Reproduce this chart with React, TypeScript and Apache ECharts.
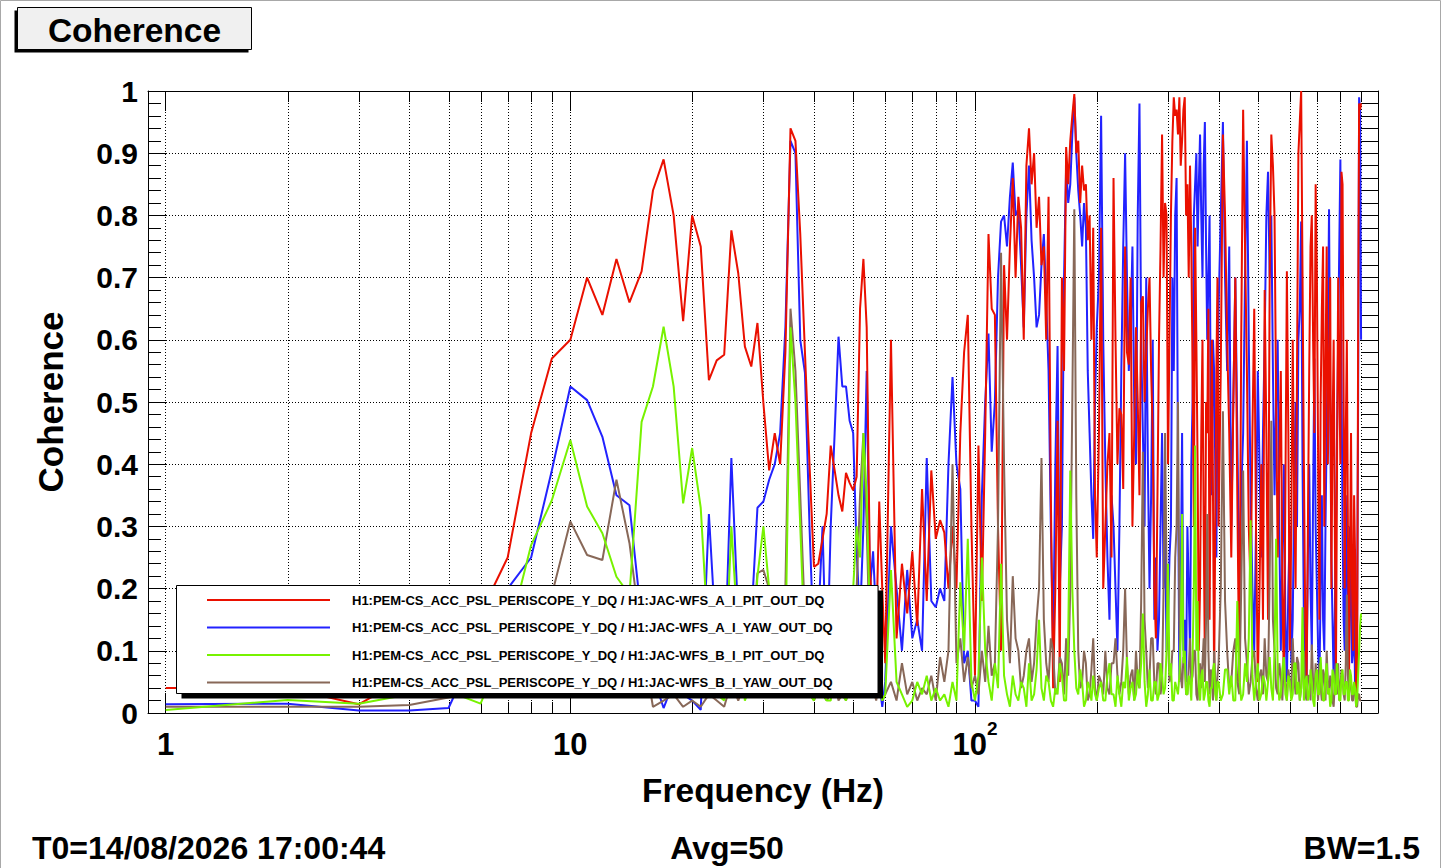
import React, { useEffect, useRef } from 'react';
import * as echarts from 'echarts';

// ---------------- data ----------------
const freqHz = [
  // 1 .. 59 Hz
  1, 2, 3, 4, 5, 6, 7, 8, 9, 10, 11, 12, 13, 14, 15, 16, 17, 18, 19, 20,
  21, 22, 23, 24, 25, 26, 27, 28, 29, 30, 31, 32, 33, 34, 35, 36, 37, 38, 39, 40,
  41, 42, 43, 44, 45, 46, 47, 48, 49, 50, 51, 52, 53, 54, 55, 56, 57, 58, 59,
  // 60 .. 98 Hz
  60, 62, 64, 66, 68, 70, 72, 74, 76, 78, 80, 82, 84, 86, 88, 90, 92, 94, 96, 98,
  // 100 .. 198 Hz
  100, 102, 104, 106, 108, 110, 112, 114, 116, 118, 120, 122, 124, 126, 128, 130, 132, 134, 136, 138,
  140, 142, 144, 146, 148, 150, 152, 154, 156, 158, 160, 162, 164, 166, 168, 170, 172, 174, 176, 178,
  180, 182, 184, 186, 188, 190, 192, 194, 196, 198,
  // 200 .. 397.5 Hz
  200, 202.5, 205, 207.5, 210, 212.5, 215, 217.5, 220, 222.5, 225, 227.5, 230, 232.5, 235, 237.5, 240, 242.5, 245, 247.5,
  250, 252.5, 255, 257.5, 260, 262.5, 265, 267.5, 270, 272.5, 275, 277.5, 280, 282.5, 285, 287.5, 290, 292.5, 295, 297.5,
  300, 302.5, 305, 307.5, 310, 312.5, 315, 317.5, 320, 322.5, 325, 327.5, 330, 332.5, 335, 337.5, 340, 342.5, 345, 347.5,
  350, 352.5, 355, 357.5, 360, 362.5, 365, 367.5, 370, 372.5, 375, 377.5, 380, 382.5, 385, 387.5, 390, 392.5, 395, 397.5,
  // 400 .. 900 Hz
  400, 405, 410, 415, 420, 425, 430, 435, 440, 445, 450, 455, 460, 465, 470, 475, 480, 485, 490, 495,
  500, 505, 510, 515, 520, 525, 530, 535, 540, 545, 550, 555, 560, 565, 570, 575, 580, 585, 590, 595,
  600, 605, 610, 615, 620, 625, 630, 635, 640, 645, 650, 655, 660, 665, 670, 675, 680, 685, 690, 695,
  700, 705, 710, 715, 720, 725, 730, 735, 740, 745, 750, 755, 760, 765, 770, 775, 780, 785, 790, 795,
  800, 805, 810, 815, 820, 825, 830, 835, 840, 845, 850, 855, 860, 865, 870, 875, 880, 885, 890, 895,
  900,
];

// H1:JAC-WFS_A_I_PIT_OUT_DQ (red)
const cohAPit = [
  0.04, 0.04, 0.014, 0.06, 0.10, 0.16, 0.25, 0.45, 0.57, 0.60,
  0.70, 0.64, 0.73, 0.66, 0.71, 0.84, 0.89, 0.80, 0.63, 0.80,
  0.75, 0.535, 0.567, 0.576, 0.776, 0.707, 0.589, 0.557, 0.627, 0.498,
  0.39, 0.45, 0.40, 0.58, 0.94, 0.92, 0.77, 0.58, 0.40, 0.235,
  0.24, 0.28, 0.32, 0.43, 0.39, 0.35, 0.324, 0.386, 0.37, 0.358,
  0.38, 0.65, 0.73, 0.62, 0.23, 0.15, 0.12, 0.34, 0.20,
  0.08, 0.60, 0.12, 0.24, 0.16, 0.26, 0.14, 0.36, 0.18, 0.39,
  0.28, 0.31, 0.29, 0.20, 0.30, 0.20, 0.45, 0.58, 0.64, 0.30,
  0.06, 0.43, 0.18, 0.45, 0.77, 0.65, 0.64, 0.30, 0.10, 0.72,
  0.60, 0.75, 0.86, 0.70, 0.83, 0.78, 0.60, 0.88, 0.94, 0.85,
  0.90, 0.78, 0.83, 0.72, 0.75, 0.60, 0.83, 0.35, 0.04, 0.20,
  0.47, 0.05, 0.70, 0.55, 0.91, 0.85, 0.92, 0.96, 0.995, 0.90,
  0.92, 0.82, 0.88, 0.84, 0.85, 0.76, 0.80, 0.60, 0.78, 0.35,
  0.25, 0.45, 0.78, 0.20, 0.30, 0.40, 0.45, 0.25, 0.86, 0.60,
  0.40, 0.49, 0.48, 0.36, 0.75, 0.58, 0.56, 0.70, 0.30, 0.45,
  0.62, 0.50, 0.35, 0.66, 0.67, 0.50, 0.58, 0.65, 0.70, 0.55,
  0.45, 0.20, 0.12, 0.35, 0.60, 0.75, 0.93, 0.70, 0.82, 0.80,
  0.40, 0.60, 0.80, 0.92, 0.99, 0.96, 0.97, 0.93, 0.99, 0.88,
  0.92, 0.97, 0.99, 0.80, 0.85, 0.70, 0.88, 0.75, 0.55, 0.30,
  0.78, 0.60, 0.40, 0.10, 0.20, 0.45, 0.60, 0.30, 0.08, 0.50,
  0.45, 0.65, 0.15, 0.40, 0.60, 0.35, 0.05, 0.30, 0.55, 0.70,
  0.30, 0.55, 0.93, 0.80, 0.60, 0.45, 0.25, 0.50, 0.70, 0.35,
  0.05, 0.60, 0.97, 0.75, 0.55, 0.30, 0.20, 0.45, 0.65, 0.30,
  0.05, 0.20, 0.40, 0.15, 0.68, 0.45, 0.15, 0.70, 0.93, 0.88,
  0.80, 0.50, 0.25, 0.40, 0.55, 0.20, 0.05, 0.35, 0.71, 0.45,
  0.10, 0.30, 0.60, 0.35, 0.20, 0.55, 0.90, 0.95, 1.0, 0.70,
  0.40, 0.15, 0.05, 0.30, 0.55, 0.75, 0.80, 0.60, 0.45, 0.85,
  0.70, 0.40, 0.15, 0.50, 0.65, 0.75, 0.30, 0.55, 0.75, 0.40,
  0.55, 0.70, 0.20, 0.45, 0.60, 0.30, 0.05, 0.40, 0.70, 0.55,
  0.40, 0.87, 0.85, 0.50, 0.20, 0.45, 0.60, 0.30, 0.05, 0.25,
  0.45, 0.20, 0.10, 0.35, 0.25, 0.02, 0.05, 0.60, 0.98, 0.97,
  0.98,
];

// H1:JAC-WFS_A_I_YAW_OUT_DQ (blue)
const cohAYaw = [
  0.014, 0.015, 0.004, 0.004, 0.008, 0.12, 0.20, 0.25, 0.39, 0.525,
  0.503, 0.444, 0.35, 0.334, 0.15, 0.06, 0.008, 0.05, 0.03, 0.02,
  0.005, 0.32, 0.10, 0.05, 0.41, 0.15, 0.05, 0.15, 0.33, 0.34,
  0.375, 0.40, 0.45, 0.62, 0.92, 0.90, 0.60, 0.547, 0.30, 0.10,
  0.15, 0.30, 0.05, 0.30, 0.45, 0.605, 0.525, 0.525, 0.47, 0.45,
  0.26, 0.15, 0.30, 0.55, 0.20, 0.26, 0.15, 0.05, 0.01,
  0.05, 0.30, 0.20, 0.10, 0.23, 0.12, 0.15, 0.10, 0.41, 0.18,
  0.17, 0.20, 0.18, 0.40, 0.54, 0.40, 0.36, 0.08, 0.10, 0.02,
  0.02, 0.01, 0.35, 0.50, 0.61, 0.42, 0.50, 0.70, 0.79, 0.80,
  0.75, 0.83, 0.885, 0.80, 0.81, 0.72, 0.62, 0.80, 0.88, 0.76,
  0.70, 0.62, 0.64, 0.72, 0.77, 0.66, 0.55, 0.30, 0.10, 0.40,
  0.59, 0.20, 0.30, 0.70, 0.88, 0.82, 0.85, 0.93, 0.99, 0.90,
  0.84, 0.80, 0.75, 0.82, 0.78, 0.55, 0.45, 0.35, 0.28, 0.50,
  0.62, 0.70, 0.96, 0.60, 0.40, 0.25, 0.15, 0.35, 0.30, 0.20,
  0.10, 0.30, 0.55, 0.75, 0.90, 0.70, 0.55, 0.62, 0.75, 0.50,
  0.40, 0.80, 0.98, 0.60, 0.45, 0.30, 0.70, 0.40, 0.20, 0.35,
  0.60, 0.15, 0.25, 0.10, 0.15, 0.30, 0.45, 0.20, 0.30, 0.10,
  0.15, 0.25, 0.30, 0.70, 0.55, 0.80, 0.86, 0.40, 0.05, 0.20,
  0.45, 0.10, 0.15, 0.05, 0.30, 0.20, 0.10, 0.40, 0.50, 0.80,
  0.85, 0.90, 0.75, 0.85, 0.93, 0.80, 0.70, 0.88, 0.95, 0.75,
  0.60, 0.70, 0.80, 0.50, 0.35, 0.60, 0.55, 0.40, 0.25, 0.50,
  0.65, 0.80, 0.95, 0.70, 0.55, 0.75, 0.30, 0.50, 0.70, 0.45,
  0.20, 0.35, 0.45, 0.70, 0.92, 0.60, 0.35, 0.20, 0.10, 0.30,
  0.55, 0.40, 0.25, 0.45, 0.60, 0.80, 0.87, 0.70, 0.80, 0.55,
  0.35, 0.50, 0.60, 0.30, 0.10, 0.25, 0.40, 0.15, 0.05, 0.20,
  0.30, 0.08, 0.15, 0.35, 0.50, 0.30, 0.60, 0.65, 0.79, 0.40,
  0.15, 0.05, 0.05, 0.25, 0.40, 0.20, 0.10, 0.35, 0.57, 0.30,
  0.20, 0.10, 0.05, 0.20, 0.35, 0.15, 0.10, 0.30, 0.45, 0.60,
  0.81, 0.50, 0.25, 0.15, 0.05, 0.15, 0.30, 0.45, 0.60, 0.75,
  0.89, 0.55, 0.30, 0.15, 0.10, 0.35, 0.25, 0.10, 0.05, 0.30,
  0.20, 0.08, 0.10, 0.20, 0.03, 0.10, 0.15, 0.50, 0.99, 0.97,
  0.60,
];

// H1:JAC-WFS_B_I_PIT_OUT_DQ (green)
const cohBPit = [
  0.005, 0.021, 0.015, 0.03, 0.035, 0.015, 0.12, 0.27, 0.342, 0.439,
  0.332, 0.289, 0.219, 0.19, 0.468, 0.525, 0.621, 0.525, 0.337, 0.426,
  0.33, 0.10, 0.03, 0.02, 0.30, 0.12, 0.02, 0.05, 0.22, 0.30,
  0.20, 0.05, 0.03, 0.10, 0.62, 0.50, 0.30, 0.10, 0.03, 0.02,
  0.05, 0.03, 0.02, 0.02, 0.08, 0.05, 0.03, 0.02, 0.05, 0.20,
  0.30, 0.25, 0.45, 0.35, 0.15, 0.05, 0.03, 0.06, 0.02,
  0.03, 0.23, 0.05, 0.03, 0.01, 0.02, 0.05, 0.03, 0.06, 0.02,
  0.04, 0.02, 0.03, 0.01, 0.05, 0.02, 0.21, 0.10, 0.28, 0.05,
  0.02, 0.06, 0.25, 0.10, 0.05, 0.02, 0.08, 0.04, 0.24, 0.06,
  0.03, 0.01, 0.06, 0.03, 0.02, 0.05, 0.04, 0.01, 0.08, 0.02,
  0.03, 0.07, 0.15, 0.04, 0.02, 0.06, 0.05, 0.02, 0.01, 0.04,
  0.03, 0.08, 0.06, 0.02, 0.02, 0.12, 0.39, 0.20, 0.10, 0.04,
  0.03, 0.07, 0.05, 0.01, 0.02, 0.05, 0.04, 0.02, 0.06, 0.03,
  0.02, 0.04, 0.05, 0.02, 0.02, 0.06, 0.08, 0.03, 0.03, 0.01,
  0.06, 0.03, 0.01, 0.05, 0.04, 0.09, 0.02, 0.04, 0.05, 0.02,
  0.03, 0.07, 0.04, 0.08, 0.16, 0.05, 0.01, 0.03, 0.07, 0.02,
  0.02, 0.05, 0.05, 0.02, 0.03, 0.08, 0.06, 0.03, 0.04, 0.10,
  0.24, 0.06, 0.08, 0.02, 0.02, 0.05, 0.04, 0.03, 0.06, 0.12,
  0.32, 0.08, 0.10, 0.03, 0.03, 0.06, 0.05, 0.02, 0.09, 0.20,
  0.43, 0.10, 0.18, 0.04, 0.02, 0.06, 0.07, 0.02, 0.03, 0.05,
  0.05, 0.02, 0.01, 0.04, 0.04, 0.07, 0.08, 0.03, 0.02, 0.05,
  0.05, 0.02, 0.03, 0.07, 0.07, 0.03, 0.06, 0.02, 0.02, 0.18,
  0.06, 0.02, 0.03, 0.08, 0.05, 0.12, 0.31, 0.06, 0.02, 0.05,
  0.08, 0.02, 0.03, 0.06, 0.05, 0.02, 0.05, 0.09, 0.04, 0.02,
  0.10, 0.28, 0.06, 0.02, 0.03, 0.07, 0.09, 0.03, 0.02, 0.06,
  0.05, 0.02, 0.03, 0.08, 0.08, 0.03, 0.05, 0.02, 0.04, 0.17,
  0.02, 0.05, 0.06, 0.02, 0.03, 0.07, 0.05, 0.02, 0.01, 0.06,
  0.07, 0.03, 0.03, 0.09, 0.05, 0.02, 0.02, 0.06, 0.08, 0.03,
  0.04, 0.01, 0.02, 0.07, 0.06, 0.03, 0.03, 0.08, 0.05, 0.02,
  0.02, 0.06, 0.07, 0.03, 0.03, 0.05, 0.05, 0.02, 0.02, 0.07,
  0.06, 0.03, 0.03, 0.05, 0.04, 0.01, 0.02, 0.06, 0.10, 0.14,
  0.16,
];

// H1:JAC-WFS_B_I_YAW_OUT_DQ (brown)
const cohBYaw = [
  0.010, 0.010, 0.010, 0.013, 0.025, 0.04, 0.06, 0.10, 0.19, 0.308,
  0.254, 0.246, 0.375, 0.273, 0.12, 0.01, 0.02, 0.03, 0.01, 0.02,
  0.01, 0.03, 0.02, 0.01, 0.05, 0.02, 0.05, 0.10, 0.225, 0.23,
  0.20, 0.08, 0.05, 0.20, 0.65, 0.55, 0.35, 0.15, 0.05, 0.02,
  0.04, 0.03, 0.02, 0.03, 0.05, 0.02, 0.03, 0.02, 0.04, 0.10,
  0.20, 0.35, 0.45, 0.30, 0.10, 0.04, 0.02, 0.05, 0.02,
  0.03, 0.05, 0.02, 0.08, 0.03, 0.05, 0.02, 0.04, 0.03, 0.06,
  0.02, 0.09, 0.05, 0.10, 0.40, 0.08, 0.12, 0.05, 0.09, 0.04,
  0.06, 0.03, 0.10, 0.05, 0.14, 0.06, 0.08, 0.30, 0.74, 0.40,
  0.15, 0.08, 0.22, 0.12, 0.10, 0.04, 0.06, 0.10, 0.12, 0.05,
  0.08, 0.15, 0.20, 0.41, 0.15, 0.08, 0.05, 0.12, 0.10, 0.03,
  0.04, 0.09, 0.08, 0.03, 0.12, 0.06, 0.20, 0.50, 0.81, 0.35,
  0.10, 0.04, 0.05, 0.10, 0.08, 0.02, 0.03, 0.07, 0.12, 0.04,
  0.02, 0.06, 0.05, 0.03, 0.10, 0.04, 0.03, 0.08, 0.08, 0.12,
  0.06, 0.03, 0.05, 0.10, 0.20, 0.08, 0.03, 0.06, 0.07, 0.02,
  0.10, 0.05, 0.04, 0.18, 0.42, 0.15, 0.10, 0.04, 0.06, 0.12,
  0.12, 0.05, 0.03, 0.08, 0.08, 0.03, 0.05, 0.20, 0.45, 0.22,
  0.12, 0.05, 0.06, 0.10, 0.10, 0.25, 0.30, 0.50, 0.15, 0.06,
  0.04, 0.09, 0.08, 0.03, 0.03, 0.07, 0.12, 0.05, 0.06, 0.10,
  0.10, 0.03, 0.02, 0.06, 0.08, 0.04, 0.08, 0.12, 0.05, 0.15,
  0.32, 0.10, 0.03, 0.07, 0.06, 0.02, 0.10, 0.05, 0.02, 0.06,
  0.08, 0.20, 0.485, 0.18, 0.10, 0.04, 0.05, 0.10, 0.12, 0.05,
  0.03, 0.20, 0.39, 0.12, 0.08, 0.03, 0.05, 0.09, 0.10, 0.04,
  0.02, 0.06, 0.07, 0.03, 0.12, 0.06, 0.05, 0.22, 0.47, 0.15,
  0.10, 0.04, 0.03, 0.08, 0.06, 0.02, 0.09, 0.05, 0.02, 0.07,
  0.05, 0.03, 0.12, 0.06, 0.03, 0.09, 0.08, 0.02, 0.04, 0.07,
  0.10, 0.03, 0.02, 0.06, 0.06, 0.02, 0.11, 0.05, 0.03, 0.08,
  0.05, 0.02, 0.08, 0.04, 0.02, 0.07, 0.06, 0.02, 0.10, 0.05,
  0.03, 0.06, 0.05, 0.02, 0.01, 0.05, 0.08, 0.03, 0.08, 0.02,
  0.04, 0.07, 0.06, 0.03, 0.02, 0.08, 0.19, 0.06, 0.03, 0.05,
  0.05, 0.02, 0.02, 0.04, 0.04, 0.01, 0.01, 0.03, 0.03, 0.02,
  0.02,
];

const seriesNames = [
  'H1:PEM-CS_ACC_PSL_PERISCOPE_Y_DQ / H1:JAC-WFS_A_I_PIT_OUT_DQ',
  'H1:PEM-CS_ACC_PSL_PERISCOPE_Y_DQ / H1:JAC-WFS_A_I_YAW_OUT_DQ',
  'H1:PEM-CS_ACC_PSL_PERISCOPE_Y_DQ / H1:JAC-WFS_B_I_PIT_OUT_DQ',
  'H1:PEM-CS_ACC_PSL_PERISCOPE_Y_DQ / H1:JAC-WFS_B_I_YAW_OUT_DQ',
];
const seriesColors = ['#ea1000', '#2222ff', '#77f200', '#886858'];

const minorFreqTicks = [2, 3, 4, 5, 6, 7, 8, 9, 20, 30, 40, 50, 60, 70, 80, 90, 200, 300, 400, 500, 600, 700, 800, 900];
const decadeMantissa = ['1', '10', '10'];
const decadeExponent = ['', '', '2'];

const titleText = 'Coherence';
const xAxisTitle = 'Frequency (Hz)';
const yAxisTitle = 'Coherence';
const infoT0 = 'T0=14/08/2026 17:00:44';
const infoAvg = 'Avg=50';
const infoBW = 'BW=1.5';

const FONT = '"Liberation Sans", Arial, Helvetica, sans-serif';

function pairs(vals: number[]) {
  return freqHz.map((f, i) => [f, vals[i]]);
}

export default function App() {
  const ref = useRef<HTMLDivElement>(null);
  useEffect(() => {
    if (!ref.current) return;
    const chart = echarts.init(ref.current, undefined, { renderer: 'svg' });

    const xFmt = (v: number) => {
      const lg = Math.log10(v);
      const k = Math.round(lg);
      if (Math.abs(lg - k) > 1e-6 || decadeMantissa[k] === undefined) return '';
      const exp = decadeExponent[k];
      return exp ? `{b|${decadeMantissa[k]}}{s|${exp}}` : `{b|${decadeMantissa[k]}}`;
    };

    const lineSeries = (idx: number, vals: number[]) => ({
      type: 'line',
      name: seriesNames[idx],
      data: pairs(vals),
      color: seriesColors[idx],
      showSymbol: false,
      symbol: 'none',
      silent: true,
      clip: true,
      z: 2,
      lineStyle: { width: 2, color: seriesColors[idx] },
    });

    const option: any = {
      animation: false,
      backgroundColor: '#ffffff',
      grid: { left: 148, top: 91, width: 1230, height: 622, show: false },
      xAxis: [
        {
          type: 'log',
          logBase: 10,
          min: 0.904,
          max: 991,
          position: 'bottom',
          axisLine: { show: true, onZero: false, lineStyle: { color: '#000', width: 1 } },
          axisTick: { show: true, inside: true, length: 20, lineStyle: { color: '#000', width: 1 } },
          axisLabel: {
            show: true,
            margin: 6,
            color: '#000',
            formatter: xFmt,
            rich: {
              b: { fontFamily: FONT, fontWeight: 'bold', fontSize: 31, color: '#000', lineHeight: 50 },
              s: { fontFamily: FONT, fontWeight: 'bold', fontSize: 19, color: '#000', lineHeight: 19, verticalAlign: 'top' },
            },
          },
          splitLine: { show: true, lineStyle: { color: '#000', width: 1, type: [1, 2] } },
          name: xAxisTitle,
          nameLocation: 'middle',
          nameGap: 60,
          nameTextStyle: { fontFamily: FONT, fontWeight: 'bold', fontSize: 33.5, color: '#000' },
        },
        {
          type: 'log',
          logBase: 10,
          min: 0.904,
          max: 991,
          position: 'top',
          axisLine: { show: true, onZero: false, lineStyle: { color: '#000', width: 1 } },
          axisTick: { show: true, inside: true, length: 20, lineStyle: { color: '#000', width: 1 } },
          axisLabel: { show: false },
          splitLine: { show: false },
        },
      ],
      yAxis: [
        {
          type: 'value',
          min: 0,
          max: 1,
          interval: 0.1,
          position: 'left',
          axisLine: { show: true, onZero: false, lineStyle: { color: '#000', width: 1 } },
          axisTick: { show: true, inside: true, length: 19, lineStyle: { color: '#000', width: 1 } },
          minorTick: { show: true, splitNumber: 5, length: 13, lineStyle: { color: '#000', width: 1 } },
          axisLabel: {
            margin: 10,
            fontFamily: FONT,
            fontWeight: 'bold',
            fontSize: 30,
            color: '#000',
          },
          splitLine: { show: true, lineStyle: { color: '#000', width: 1, type: [1, 2] } },
          name: yAxisTitle,
          nameLocation: 'middle',
          nameRotate: 90,
          nameGap: 80,
          nameTextStyle: { fontFamily: FONT, fontWeight: 'bold', fontSize: 35, color: '#000' },
        },
        {
          type: 'value',
          min: 0,
          max: 1,
          interval: 0.1,
          position: 'right',
          axisLine: { show: true, onZero: false, lineStyle: { color: '#000', width: 1 } },
          axisTick: { show: true, inside: true, length: 17, lineStyle: { color: '#000', width: 1 } },
          minorTick: { show: true, splitNumber: 5, length: 17, lineStyle: { color: '#000', width: 1 } },
          axisLabel: { show: false },
          splitLine: { show: false },
        },
      ],
      legend: {
        data: seriesNames,
        orient: 'vertical',
        left: 202,
        top: 587,
        itemWidth: 123,
        itemHeight: 2,
        itemGap: 11.5,
        icon: 'rect',
        selectedMode: false,
        z: 10,
        textStyle: {
          fontFamily: FONT,
          fontWeight: 'bold',
          fontSize: 13,
          color: '#000',
          lineHeight: 16,
          padding: [0, 0, 0, 17],
        },
      },
      series: [
        {
          type: 'custom',
          name: 'minor-grid',
          silent: true,
          z: 1,
          data: minorFreqTicks.map((f) => [f, 0]),
          renderItem: (_params: any, api: any) => {
            const f = api.value(0);
            const b = api.coord([f, 0]);
            const t = api.coord([f, 1]);
            const x = Math.round(b[0]) + 0.5;
            return {
              type: 'group',
              children: [
                { type: 'line', shape: { x1: x, y1: t[1], x2: x, y2: b[1] }, style: { stroke: '#000', lineWidth: 1, lineDash: [1, 2] } },
                { type: 'line', shape: { x1: x, y1: b[1], x2: x, y2: b[1] - 11 }, style: { stroke: '#000', lineWidth: 1 } },
                { type: 'line', shape: { x1: x, y1: t[1], x2: x, y2: t[1] + 11 }, style: { stroke: '#000', lineWidth: 1 } },
              ],
            };
          },
        },
        lineSeries(1, cohAYaw),
        lineSeries(0, cohAPit),
        lineSeries(3, cohBYaw),
        lineSeries(2, cohBPit),
      ],
      graphic: [
        { type: 'rect', z: 0, silent: true, shape: { x: 0.5, y: 0.5, width: 1440, height: 900 }, style: { fill: 'none', stroke: '#a8a8a8', lineWidth: 1 } },
        // title box
        { type: 'rect', z: 5, shape: { x: 14.5, y: 10.5, width: 234, height: 42 }, style: { fill: '#000' } },
        { type: 'rect', z: 6, shape: { x: 17.5, y: 7.5, width: 234, height: 42 }, style: { fill: '#f0f0f0', stroke: '#000', lineWidth: 1 } },
        {
          type: 'text', z: 7, x: 134.5, y: 30,
          style: { text: titleText, fontFamily: FONT, fontWeight: 'bold', fontSize: 33.5, fill: '#000', textAlign: 'center', textVerticalAlign: 'middle' },
        },
        // legend box
        { type: 'rect', z: 5, shape: { x: 181.5, y: 590.5, width: 701.5, height: 108 }, style: { fill: '#000' } },
        { type: 'rect', z: 6, shape: { x: 176.5, y: 585.5, width: 701.5, height: 108 }, style: { fill: '#fff', stroke: '#000', lineWidth: 1 } },
        // info texts
        {
          type: 'text', z: 7, x: 32, y: 848,
          style: { text: infoT0, fontFamily: FONT, fontWeight: 'bold', fontSize: 32, fill: '#000', textAlign: 'left', textVerticalAlign: 'middle' },
        },
        {
          type: 'text', z: 7, x: 727, y: 848,
          style: { text: infoAvg, fontFamily: FONT, fontWeight: 'bold', fontSize: 32, fill: '#000', textAlign: 'center', textVerticalAlign: 'middle' },
        },
        {
          type: 'text', z: 7, x: 1420, y: 848,
          style: { text: infoBW, fontFamily: FONT, fontWeight: 'bold', fontSize: 32, fill: '#000', textAlign: 'right', textVerticalAlign: 'middle' },
        },
      ],
    };

    chart.setOption(option);
    return () => chart.dispose();
  }, []);

  return (
    <div
      ref={ref}
      style={{ position: 'fixed', left: 0, top: 0, width: 1447, height: 868, background: '#fff' }}
    />
  );
}
